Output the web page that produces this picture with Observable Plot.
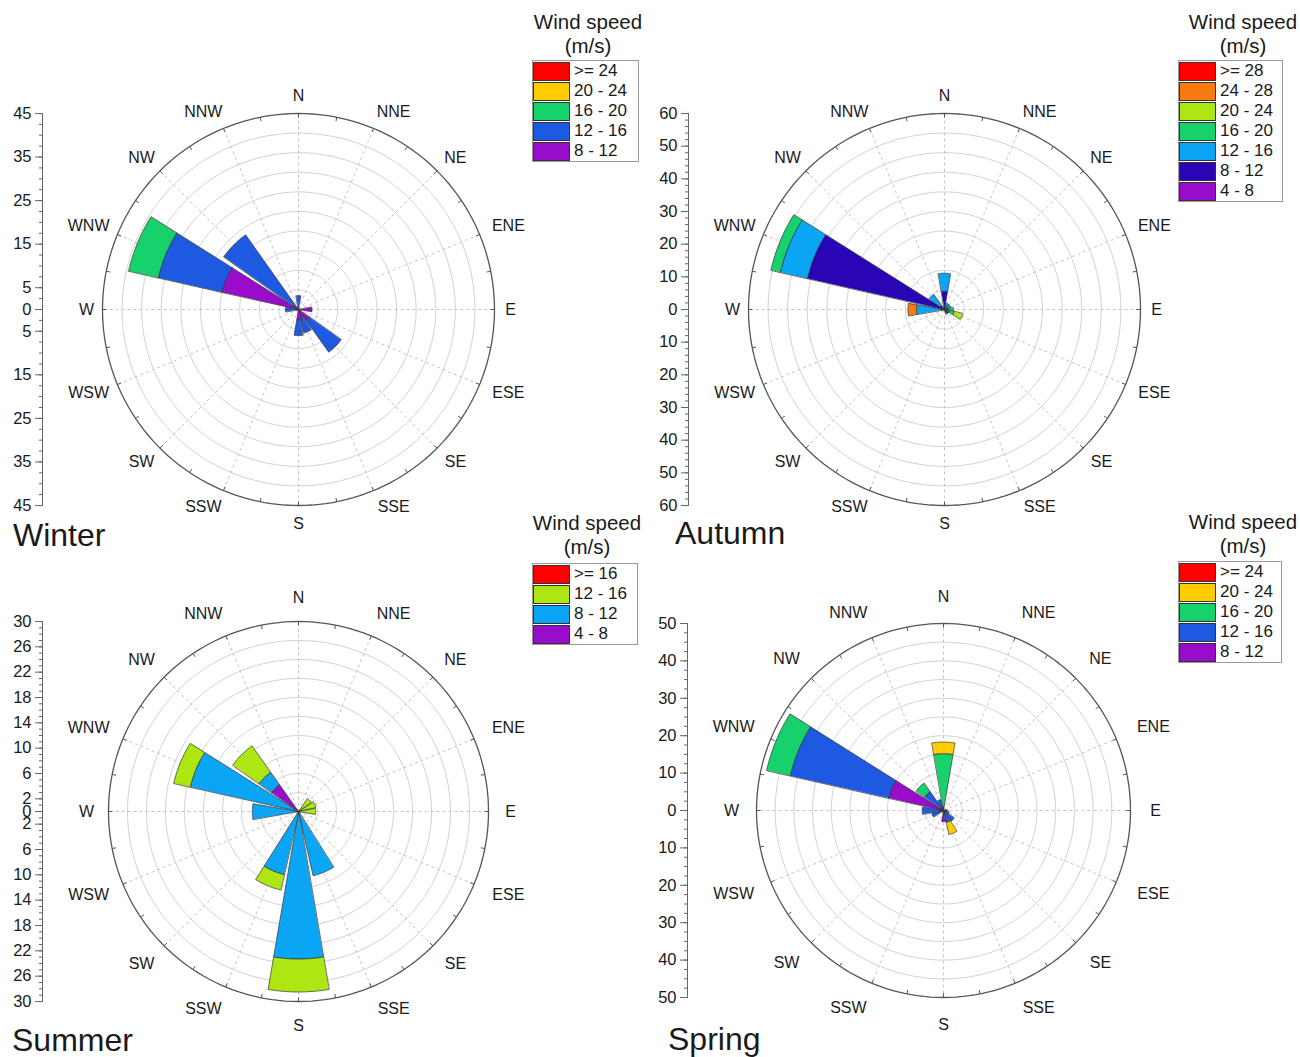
<!DOCTYPE html>
<html><head><meta charset="utf-8">
<script src="https://cdn.jsdelivr.net/npm/d3@7"></script>
<script src="https://cdn.jsdelivr.net/npm/@observablehq/plot@0.6"></script>
<style>
body{margin:0;background:#fff;font-family:"Liberation Sans",Arial,sans-serif;}
#root{position:relative;width:1300px;height:1057px;overflow:hidden;background:#fff}
.panel{position:absolute}
.season{position:absolute;font-size:32px;line-height:32px;color:#1a1a1a;white-space:nowrap}
.ltitle{position:absolute;font-size:20.5px;line-height:24px;text-align:center;color:#1a1a1a;white-space:nowrap;transform:translateX(-50%)}
.lbox{position:absolute;border:1px solid #9a9a9a;background:#fff;box-sizing:border-box}
.lrow{display:flex;align-items:center;height:20px}
.sw{width:37px;height:19px;border:1px solid #333;box-sizing:border-box;margin-right:4px}
.lt{font-size:17px;color:#1a1a1a;line-height:20px}
</style></head>
<body><div id="root"></div>
<script>
const directions = ["N","NNE","NE","ENE","E","ESE","SE","SSE","S","SSW","SW","WSW","W","WNW","NW","NNW"];

// ---- Winter (classes lowest first) ----
const winterClasses = ["8 - 12","12 - 16","16 - 20","20 - 24",">= 24"];
const winterColors  = ["#9a0ccb","#1e5ae1","#17d16c","#ffcc00","#ff0000"];
const winter_8_12  = [0.5,0,0,0,3.1,0,3,2,2.5,0,0,0,0.5,18,1,0];
const winter_12_16 = [2.7,0,0,0,0,0,9,3.5,3.5,0,0,0,2.5,15,20,0];
const winter_16_20 = [0,0,0,0,0,0,0,0,0,0,0,0,0,7,0,0];
const winter_20_24 = [0,0,0,0,0,0,0,0,0,0,0,0,0,0,0,0];
const winter_ge24  = [0,0,0,0,0,0,0,0,0,0,0,0,0,0,0,0];
const winterTicks  = [45,35,25,15,5,0,-5,-15,-25,-35,-45];

// ---- Autumn ----
const autumnClasses = ["4 - 8","8 - 12","12 - 16","16 - 20","20 - 24","24 - 28",">= 28"];
const autumnColors  = ["#9a0ccb","#2a05b5","#0aa5f5","#17d16c","#aee614","#f87a10","#ff0000"];
const autumn_4_8   = [1,0,0,0,0,0,0,0,0,0,0,0,0.5,1,0,0];
const autumn_8_12  = [4.6,0.5,0.5,0,1,0,1.5,1,0,0,0,0,0.5,42,1.5,0];
const autumn_12_16 = [5.5,1.5,1.5,0,0,1.5,0,0,0,0,0,0,7.6,8.5,4.2,0];
const autumn_16_20 = [0,0,0,2,1.8,1.5,0,0.5,0,0,0,0,0,3,0,0];
const autumn_20_24 = [0,0,0,0,0,2.7,0,0,0,0,0,0,0,0,0,0];
const autumn_24_28 = [0,0,0,0,0,0,0,0,0,0,0,0,2.6,0,0,0];
const autumn_ge28  = [0,0,0,0,0,0,0,0,0,0,0,0,0,0,0,0];
const autumnTicks  = [60,50,40,30,20,10,0,-10,-20,-30,-40,-50,-60];

// ---- Summer ----
const summerClasses = ["4 - 8","8 - 12","12 - 16",">= 16"];
const summerColors  = ["#9a0ccb","#0aa5f5","#aee614","#ff0000"];
const summer_4_8   = [0,0,0,0,0,0,0,0,0,0,0,0,0,0,5.2,0];
const summer_8_12  = [0,0,0,0,0,0,0,10.4,23.3,10.2,0,0,7.3,17.5,2.4,0];
const summer_12_16 = [0,0,2.5,2.8,2.7,0,0,0,5.2,2.5,0,0,0,2.7,5.1,0];
const summer_ge16  = [0,0,0,0,0,0,0,0,0,0,0,0,0,0,0,0];
const summerTicks  = [30,26,22,18,14,10,6,2,0,-2,-6,-10,-14,-18,-22,-26,-30];

// ---- Spring ----
const springClasses = ["8 - 12","12 - 16","16 - 20","20 - 24",">= 24"];
const springColors  = ["#9a0ccb","#1e5ae1","#17d16c","#ffcc00","#ff0000"];
const spring_8_12  = [0,0,0,0,0.5,0,0.5,0.5,3,0,0,0,1,15,1,0];
const spring_12_16 = [1,0,0,0,0.5,1.5,3,2.8,0,0,0,3.2,4.7,27,5.2,3];
const spring_16_20 = [14.2,0,0,0,0,0,0,0,0,0,0,0,0,6.5,2.8,0];
const spring_20_24 = [3.1,0,0,0,0,0,0,3.3,0,0,0,0,0,0,0,0];
const spring_ge24  = [0,0,0,0,0,0,0,0,0,0,0,0,0,0,0,0];
const springTicks  = [50,40,30,20,10,0,-10,-20,-30,-40,-50];

const panels = [
  {name:"Winter", left:0, top:0, w:650, h:545, cx:298, cy:309, rpx:196, R:45, ticks:winterTicks, minor:2.5,
   classes:winterClasses, colors:winterColors, values:[winter_8_12,winter_12_16,winter_16_20,winter_20_24,winter_ge24],
   title:{x:13,y:519}, legend:{tx:588, ty:10, bx:532, by:60, bw:107}},
  {name:"Autumn", left:650, top:0, w:650, h:545, cx:294, cy:309, rpx:196, R:60, ticks:autumnTicks, minor:2,
   classes:autumnClasses, colors:autumnColors, values:[autumn_4_8,autumn_8_12,autumn_12_16,autumn_16_20,autumn_20_24,autumn_24_28,autumn_ge28],
   title:{x:675,y:517}, legend:{tx:1243, ty:10, bx:1178, by:60, bw:105}},
  {name:"Summer", left:0, top:545, w:650, h:512, cx:298, cy:266, rpx:190, R:30, ticks:summerTicks, minor:1,
   classes:summerClasses, colors:summerColors, values:[summer_4_8,summer_8_12,summer_12_16,summer_ge16],
   title:{x:12,y:1024}, legend:{tx:587, ty:511, bx:532, by:563, bw:106}},
  {name:"Spring", left:650, top:545, w:650, h:512, cx:293, cy:265, rpx:187, R:50, ticks:springTicks, minor:2.5,
   classes:springClasses, colors:springColors, values:[spring_8_12,spring_12_16,spring_16_20,spring_20_24,spring_ge24],
   title:{x:668,y:1023}, legend:{tx:1243, ty:510, bx:1178, by:561, bw:104}}
];

const rad = d => d * Math.PI / 180;
const polar = (r, a) => ({x: r * Math.sin(rad(a)), y: r * Math.cos(rad(a))});
const HALF = 9.7, NSEG = 16;

function wedgePoints(values, classes) {
  const out = [];
  directions.forEach((dir, i) => {
    let cum = 0;
    values.forEach((arr, c) => {
      const v = arr[i];
      if (v > 0) {
        const a0 = i * 22.5 - HALF, a1 = i * 22.5 + HALF;
        const id = dir + "-" + c;
        for (let k = 0; k <= NSEG; k++) out.push({id, cls: classes[c], ...polar(cum, a0 + (a1 - a0) * k / NSEG)});
        for (let k = NSEG; k >= 0; k--) out.push({id, cls: classes[c], ...polar(cum + v, a0 + (a1 - a0) * k / NSEG)});
      }
      cum += v;
    });
  });
  return out;
}

function ringPoints(radii) {
  const out = [];
  radii.forEach(r => { for (let a = 0; a < 360; a += 2) out.push({r, ...polar(r, a)}); });
  return out;
}

const sgn = v => Math.abs(v) < 1e-6 ? 0 : Math.sign(v);
const root = document.getElementById("root");

panels.forEach(p => {
  const R = p.R, k = R / p.rpx;
  const rings = d3.range(1, 10).map(i => R * i / 10);
  const spokes = directions.map((d, i) => ({a: i * 22.5}));
  const outerTicks = d3.range(32).map(i => ({a: i * 11.25}));
  const minorTicks = d3.range(-R, R + 1e-9, p.minor);
  const labels = directions.map((d, i) => {
    const a = i * 22.5, s = Math.sin(rad(a)), c = Math.cos(rad(a));
    const pt = polar(212 * k, a);
    return {d, x: pt.x + sgn(s) * (d.length - 1) * 7 * k, y: pt.y + sgn(c) * 2 * k};
  });
  const chart = Plot.plot({
    width: p.w, height: p.h,
    marginLeft: p.cx - 256, marginRight: 10,
    marginTop: p.cy - p.rpx, marginBottom: p.h - p.cy - p.rpx,
    style: {fontFamily: '"Liberation Sans", Arial, sans-serif', background: "white"},
    x: {domain: [-R, R], range: [p.cx - p.rpx, p.cx + p.rpx], axis: null},
    y: {domain: [-R, R], label: null},
    color: {type: "ordinal", domain: p.classes, range: p.colors},
    marks: [
      Plot.line(ringPoints(rings), {x: "x", y: "y", z: "r", curve: "linear-closed", stroke: "#d2d2d2", strokeWidth: 1}),
      Plot.link(spokes, {x1: 0, y1: 0, x2: d => polar(R, d.a).x, y2: d => polar(R, d.a).y,
        stroke: "#c4c4c4", strokeDasharray: "3,3", strokeWidth: 1}),
      Plot.line(wedgePoints(p.values, p.classes), {x: "x", y: "y", z: "id", fill: "cls",
        stroke: "#333", strokeWidth: 0.7, curve: "linear-closed"}),
      Plot.line(ringPoints([R]), {x: "x", y: "y", z: "r", curve: "linear-closed", stroke: "#555", strokeWidth: 1.3}),
      Plot.link(outerTicks, {x1: d => polar(R, d.a).x, y1: d => polar(R, d.a).y,
        x2: d => polar(R * (1 - 4 / p.rpx), d.a).x, y2: d => polar(R * (1 - 4 / p.rpx), d.a).y,
        stroke: "#555", strokeWidth: 1}),
      Plot.text(labels, {x: "x", y: "y", text: "d", fontSize: 16, fill: "#1a1a1a"}),
      Plot.frame({anchor: "left", stroke: "#666"}),
      Plot.axisY(minorTicks, {tickSize: 3, tickFormat: () => "", stroke: "#666"}),
      Plot.axisY(p.ticks, {tickSize: 7, tickPadding: 4, tickFormat: d => Math.abs(d), fontSize: 16.5, stroke: "#666", fill: "#1a1a1a"})
    ]
  });
  const div = document.createElement("div");
  div.className = "panel";
  div.style.left = p.left + "px"; div.style.top = p.top + "px";
  div.style.width = p.w + "px"; div.style.height = p.h + "px";
  div.appendChild(chart);
  root.appendChild(div);
});

panels.forEach(p => {
  const t = document.createElement("div");
  t.className = "season"; t.textContent = p.name;
  t.style.left = p.title.x + "px"; t.style.top = p.title.y + "px";
  root.appendChild(t);
  const lt = document.createElement("div");
  lt.className = "ltitle"; lt.innerHTML = "Wind speed<br>(m/s)";
  lt.style.left = p.legend.tx + "px"; lt.style.top = p.legend.ty + "px";
  root.appendChild(lt);
  const box = document.createElement("div");
  box.className = "lbox";
  box.style.left = p.legend.bx + "px"; box.style.top = p.legend.by + "px"; box.style.width = p.legend.bw + "px";
  p.classes.slice().reverse().forEach((c, i) => {
    const color = p.colors[p.classes.length - 1 - i];
    const row = document.createElement("div"); row.className = "lrow";
    const sw = document.createElement("div"); sw.className = "sw"; sw.style.background = color;
    const tx = document.createElement("div"); tx.className = "lt"; tx.textContent = c;
    row.appendChild(sw); row.appendChild(tx); box.appendChild(row);
  });
  root.appendChild(box);
});
</script></body></html>
